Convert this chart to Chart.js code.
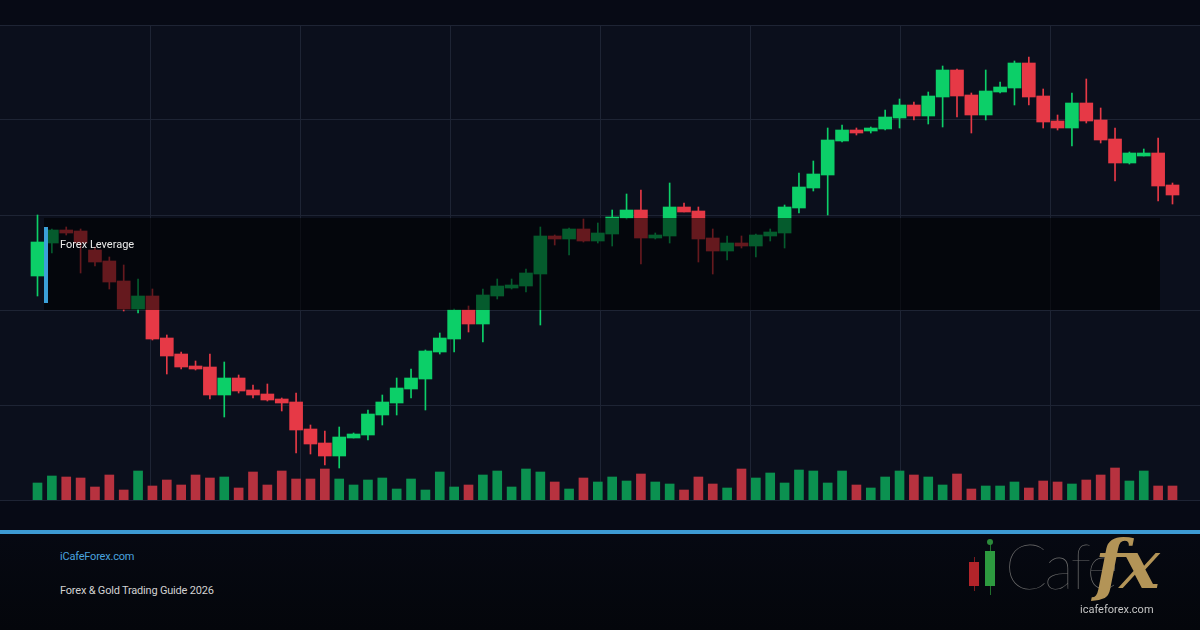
<!DOCTYPE html>
<html>
<head>
<meta charset="utf-8">
<script src="https://cdn.jsdelivr.net/npm/chart.js@4.4.1/dist/chart.umd.min.js"></script>
<style>
  html, body { margin: 0; padding: 0; width: 1200px; height: 630px; overflow: hidden; background: #070a15; font-family: Roboto, "Noto Sans", sans-serif; }
  #wrap { position: absolute; left: 0; top: 0; width: 1200px; height: 530px; }
  #footer { position: absolute; left: 0; top: 530px; width: 1200px; height: 100px; box-sizing: border-box; border-top: 4px solid #3d9bd4; background: linear-gradient(#060912, #04060b); }
  .ftxt { position: absolute; left: 60px; font-size: 11px; line-height: 13px; white-space: nowrap; letter-spacing: -0.2px; }
  #site { top: 16px; color: #4aa3df; }
  #guide { top: 50px; color: #d2d2d2; }
  .logo-c { position: absolute; }
  #cafe { position: absolute; left: 1005px; top: -4px; font-family: Lato, Roboto, sans-serif; font-weight: 100; font-size: 62px; line-height: 70px; color: #6a6a6a; letter-spacing: -3px; }
  #fx { position: absolute; left: 1095px; top: -10px; font-family: "DejaVu Serif", serif; font-style: italic; font-weight: bold; font-size: 68px; line-height: 80px; color: #b39457; letter-spacing: -5px; }
  #logo-url { position: absolute; left: 1080px; top: 69px; font-size: 11px; line-height: 13px; color: #c4c4c4; }
</style>
</head>
<body>
<div id="wrap"><canvas id="chart" width="1200" height="530"></canvas></div>
<div id="footer">
  <div class="ftxt" id="site">iCafeForex.com</div>
  <div class="ftxt" id="guide">Forex &amp; Gold Trading Guide 2026</div>
  <div class="logo-c" style="left:974px;top:23px;width:1px;height:34px;background:#7a1a1e"></div>
  <div class="logo-c" style="left:969px;top:28px;width:10px;height:24px;background:#b3242a"></div>
  <div class="logo-c" style="left:990px;top:8px;width:1px;height:53px;background:#1f6e2c"></div>
  <div class="logo-c" style="left:987px;top:5px;width:6px;height:6px;border-radius:3px;background:#2b8a3a"></div>
  <div class="logo-c" style="left:985px;top:17px;width:10px;height:35px;background:#2d9a3f"></div>
  <div id="cafe">Cafe</div>
  <div id="fx">fx</div>
  <div id="logo-url">icafeforex.com</div>
</div>
<script>
// ================= DATA =================
const opens  = [224,257,270,269,250,239,219,191,204,162,146,134,133,105,122,110,106,101,98,71,57,44,62,65,85,97,111,121,148,161,
                190,176,204,212,214,226,264,261,271,259,266,282,290,262,264,293,289,262,249,257,254,264,267,292,312,325,359,370,369,371,
                382,395,384,403,430,405,385,408,412,437,404,379,372,397,380,361,337,344,347,315];
const highs  = [285,271,273,271,253,243,235,221,211,165,148,139,146,138,125,115,116,102,107,75,69,73,67,90,105,122,131,150,167,191,
                194,211,221,221,231,273,265,272,281,277,290,306,310,267,317,297,293,271,264,264,266,271,295,327,339,372,375,372,373,390,
                401,398,408,434,431,407,430,418,439,443,411,385,407,421,392,372,348,351,362,317];
const lows   = [204,247,265,227,234,211,189,187,160,126,131,130,101,83,107,102,99,89,47,46,35,32,62,60,75,85,102,90,146,148,
                168,158,201,211,208,175,255,245,258,257,254,281,236,261,257,288,238,226,240,252,243,259,252,287,309,285,358,365,367,370,
                372,380,376,373,383,367,380,407,395,395,372,370,354,377,357,319,336,344,299,296];
const closes = [258,270,267,257,238,218,191,204,161,144,133,131,105,122,109,105,100,97,70,56,44,63,66,86,98,112,122,149,162,190,
                176,205,214,215,227,264,261,271,259,267,283,290,262,265,293,288,261,249,257,254,265,268,293,313,326,360,370,367,372,383,
                395,384,404,430,404,385,409,413,437,403,378,372,397,379,360,337,347,347,314,305];
const volumes = [17,24,23,22,13,25,10,29,14,20,15,25,22,23,12,28,15,29,21,21,31,21,15,20,22,11,
                 21,10,28,13,15,25,29,13,31,28,18,11,22,18,23,19,26,18,16,10,23,16,12,31,22,27,17,30,
                 29,17,29,15,12,23,29,25,23,15,26,11,14,14,18,12,19,18,16,20,25,32,19,29,14,14];

// leverage zone (price range)
const ZONE_HIGH = 282;
const ZONE_LOW = 190;
const ZONE_LABEL = "Forex Leverage";

// ================= STYLE =================
const UP = "#0ccf68", DOWN = "#e63946";
const UP_VOL = "#0b9150", DOWN_VOL = "#b7323f";
const GRID = "#1e2434";
const X_MIN = -2.61, X_MAX = 80.914;

const idx = opens.map((_, i) => i);
const isUp = i => closes[i] >= opens[i];

const bodies = idx.map(i => ({ x: i, y: [opens[i], closes[i]] }));
const wicks = idx.map(i => ({ x: i, y: [lows[i], highs[i]] }));
const vols = idx.map(i => ({ x: i, y: volumes[i] }));

const bgPlugin = {
  id: "bg",
  beforeDraw(chart) {
    const { ctx, chartArea: a } = chart;
    ctx.save();
    ctx.fillStyle = "#0b0f1c";
    ctx.fillRect(a.left, a.top, a.right - a.left, a.bottom - a.top);
    ctx.restore();
  }
};

const zonePlugin = {
  id: "zone",
  afterDatasetsDraw(chart) {
    const { ctx, chartArea: a, scales: { y } } = chart;
    const top = y.getPixelForValue(ZONE_HIGH);
    const bot = y.getPixelForValue(ZONE_LOW);
    const left = a.left + 44, right = a.right - 40;
    ctx.save();
    ctx.fillStyle = "rgba(0,0,0,0.56)";
    ctx.fillRect(left, top, right - left, bot - top);
    ctx.fillStyle = "#3ba0d9";
    ctx.fillRect(left, top + 9, 4, bot - top - 16);
    ctx.fillStyle = "#ececec";
    ctx.font = "11px Roboto";
    ctx.textBaseline = "middle";
    ctx.fillText(ZONE_LABEL, left + 16, top + 27);
    ctx.restore();
  }
};

new Chart(document.getElementById("chart").getContext("2d"), {
  type: "bar",
  data: {
    datasets: [
      {
        data: bodies,
        grouped: false,
        barThickness: 13,
        minBarLength: 1,
        backgroundColor: c => isUp(c.dataIndex) ? UP : DOWN,
        borderWidth: 0,
        order: 1
      },
      {
        data: wicks,
        grouped: false,
        barThickness: 1,
        backgroundColor: c => isUp(c.dataIndex) ? UP : DOWN,
        borderWidth: 0,
        order: 2
      },
      {
        data: vols,
        yAxisID: "vol",
        grouped: false,
        barThickness: 9,
        backgroundColor: c => isUp(c.dataIndex) ? UP_VOL : DOWN_VOL,
        borderWidth: 0,
        order: 3
      }
    ]
  },
  options: {
    responsive: false,
    animation: false,
    layout: { padding: { top: 25, bottom: 30, left: 0, right: 0 } },
    plugins: { legend: { display: false }, tooltip: { enabled: false } },
    scales: {
      x: { type: "linear", min: X_MIN, max: X_MAX, offset: false, display: false },
      gx: {
        type: "linear", position: "bottom", min: 0, max: 1200, offset: false,
        ticks: { display: false, stepSize: 150 },
        border: { display: false },
        grid: {
          offset: false,
          drawTicks: false,
          color: c => (c.tick && (c.tick.value === 0 || c.tick.value === 1200)) ? "rgba(0,0,0,0)" : GRID
        }
      },
      y: {
        min: 0, max: 475,
        ticks: { display: false, stepSize: 95 },
        border: { display: false },
        grid: { drawTicks: false, color: GRID }
      },
      vol: { min: 0, max: 475, display: false }
    }
  },
  plugins: [bgPlugin, zonePlugin]
});
</script>
</body>
</html>
